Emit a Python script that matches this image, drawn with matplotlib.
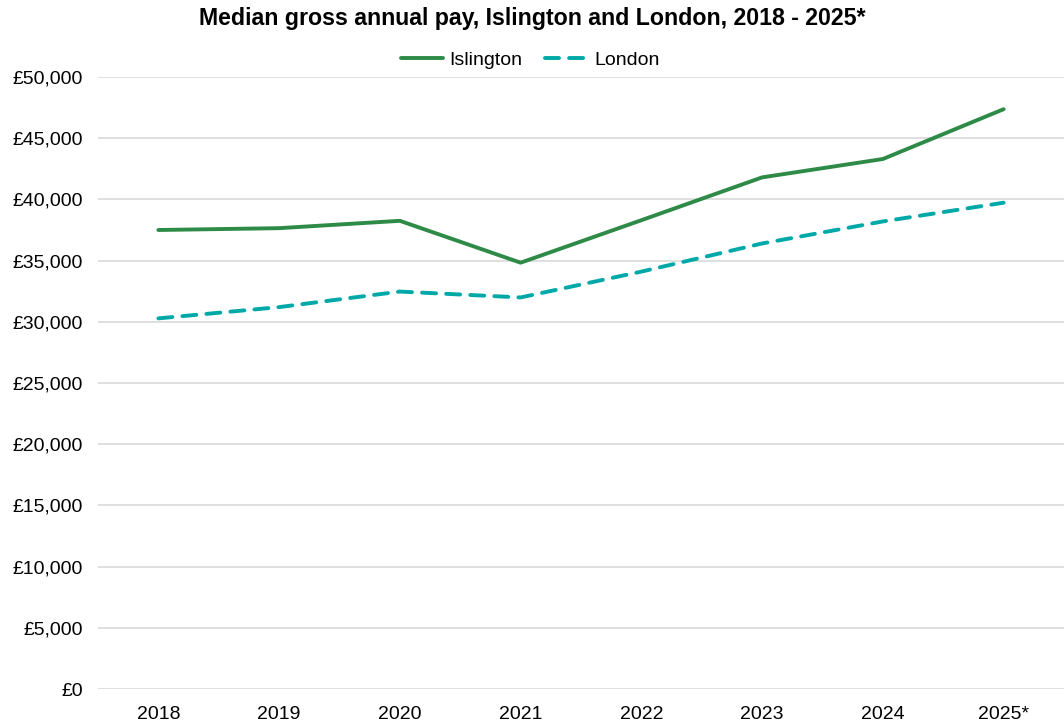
import matplotlib
matplotlib.use("Agg")
import matplotlib.pyplot as plt
from matplotlib.ticker import FuncFormatter

plt.rcParams['font.family'] = ['Liberation Sans', 'DejaVu Sans']

# Datos
years = ['2018', '2019', '2020', '2021', '2022', '2023', '2024', '2025*']
islington = [37500, 37650, 38250, 34830, 38300, 41800, 43300, 47370]
london = [30280, 31200, 32470, 31990, 34100, 36400, 38200, 39730]

fig = plt.figure(figsize=(10.64, 7.23), dpi=100)
ax = fig.add_axes([98 / 1064, 1 - 689 / 723, 1 - 98 / 1064, (689 - 77) / 723])

x = range(len(years))
ax.plot(x, islington, color='#2E8B47', lw=2.8, label='Islington', solid_capstyle='round')
ax.plot(x, london, color='#00A9A8', lw=2.8, ls=(0, (3.6, 2.6)), label='London', dash_capstyle='round')

ax.set_xlim(-0.5, len(years) - 0.5)
ax.set_ylim(0, 50000)
ax.set_yticks(range(0, 50001, 5000))
ax.yaxis.set_major_formatter(FuncFormatter(lambda v, p: f'£{int(v):,}'))
ax.set_xticks(list(x))
ax.set_xticklabels(years)
ax.tick_params(axis='both', length=0, labelsize=14, colors='black')
ax.tick_params(axis='x', pad=12)
ax.tick_params(axis='y', pad=11)
ax.grid(axis='y', color='#D9D9D9', lw=1.2)
ax.set_axisbelow(True)
for s in ax.spines.values():
    s.set_visible(False)

fig.suptitle('Median gross annual pay, Islington and London, 2018 - 2025*',
             fontsize=16.7, fontweight='bold', y=1 - 18 / 723, va='center')
fig.legend(loc='center', bbox_to_anchor=(530 / 1064, 1 - 60 / 723), ncol=2, frameon=False,
           fontsize=14, handlelength=2.2, columnspacing=1.2, handletextpad=0.3)

fig.savefig('out.png', dpi=100)
